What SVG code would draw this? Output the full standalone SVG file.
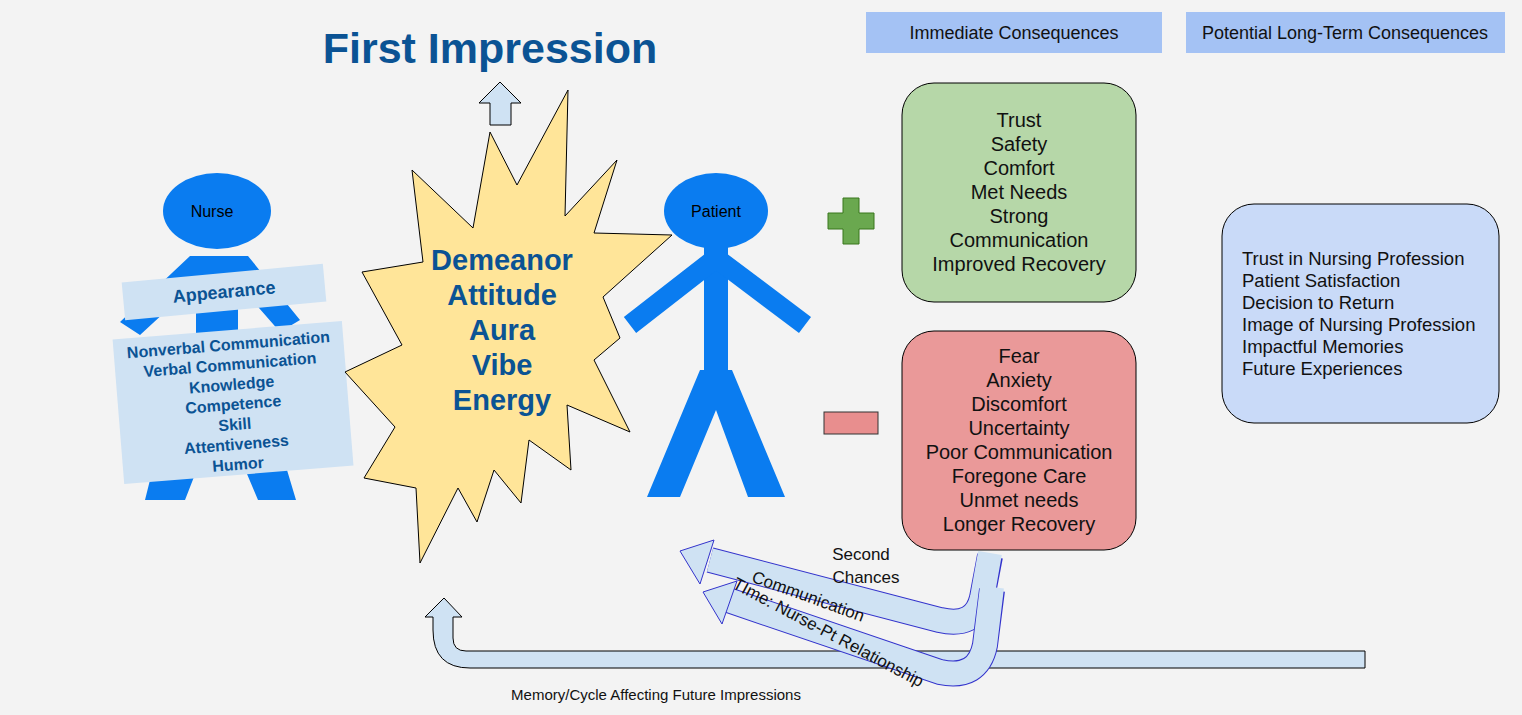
<svg xmlns="http://www.w3.org/2000/svg" width="1522" height="715" viewBox="0 0 1522 715">
<style>
text{font-family:"Liberation Sans",Arial,sans-serif}
.fig{fill:#0a7cf0}
.limb{stroke:#0a7cf0;fill:none}
.sign{fill:#cfe2f3}
.st{fill:#0b5394;font-weight:bold;text-anchor:middle}
.c{text-anchor:middle;font-size:20px;fill:#111}
.hdr{fill:#a4c2f4}
.ol{fill:none;stroke:#3333cc;stroke-width:26}
.in{fill:none;stroke:#cfe2f3;stroke-width:24}
.ah{fill:#cfe2f3;stroke:#3333cc;stroke-width:1}
</style>
<rect width="1522" height="715" fill="#f3f3f3"/>
<text x="490" y="63" class="st" font-size="43">First Impression</text>
<polygon points="500,82 521,103 511,103 511,125 490,125 490,103 479,103" fill="#cfe2f3" stroke="#000" stroke-width="1"/>
<g id="nurse">
<ellipse cx="217" cy="211" rx="54" ry="38" class="fig"/>
<polygon points="190,256 248,256 300,320 280,332 230,275 205,275 140,335 120,322" class="fig"/>
<rect x="196" y="270" width="42" height="120" class="fig"/>
<polygon points="175,380 260,380 296,500 258,500 220,410 185,500 145,500" class="fig"/>
<text x="212" y="217" font-size="16" text-anchor="middle" fill="#000">Nurse</text>
<g transform="rotate(-5.3 224 292)"><rect x="123" y="273" width="202" height="38" class="sign"/>
<text x="224" y="298" class="st" font-size="18">Appearance</text></g>
<g transform="rotate(-4.6 233 402)"><rect x="118" y="330" width="230" height="145" class="sign"/>
<g class="st" font-size="16"><text x="233" y="350">Nonverbal Communication</text><text x="233" y="370">Verbal Communication</text><text x="233" y="390">Knowledge</text><text x="233" y="410">Competence</text><text x="233" y="430">Skill</text><text x="233" y="450">Attentiveness</text><text x="233" y="470">Humor</text></g></g>
</g>
<g id="burst">
<polygon points="568,90 565,216 617,160 594,233 672,235 603,297 620,338 594,360 630,432 567,405 571,470 529,440 521,503 494,470 477,522 458,488 420,563 416,488 364,478 395,427 345,372 402,345 362,272 423,262 412,170 473,228 490,132 517,185" fill="#ffe599" stroke="#000" stroke-width="1"/>
<g class="st" font-size="29"><text x="502" y="270">Demeanor</text><text x="502" y="305">Attitude</text><text x="502" y="340">Aura</text><text x="502" y="375">Vibe</text><text x="502" y="410">Energy</text></g>
</g>
<g id="patient">
<ellipse cx="716" cy="211" rx="52" ry="38" class="fig"/>
<line x1="716" y1="245" x2="716" y2="385" class="limb" stroke-width="24"/>
<polyline points="630,325 716,258 805,325" class="limb" stroke-width="20" stroke-linejoin="bevel"/>
<polygon points="700,370 732,370 785,497 748,497 716,410 680,497 647,497" class="fig"/>
<text x="716" y="217" font-size="16" text-anchor="middle" fill="#000">Patient</text>
</g>
<g id="headers">
<rect x="866" y="12" width="296" height="41" class="hdr"/><text x="1014" y="39" font-size="18" text-anchor="middle" fill="#111">Immediate Consequences</text>
<rect x="1186" y="12" width="319" height="41" class="hdr"/><text x="1345" y="39" font-size="18" text-anchor="middle" fill="#111">Potential Long-Term Consequences</text>
</g>
<g id="positive">
<polygon points="843,198 859,198 859,213 874,213 874,229 859,229 859,244 843,244 843,229 828,229 828,213 843,213" fill="#6aa84f" stroke="#38761d" stroke-width="1"/>
<rect x="902" y="83" width="234" height="219" rx="32" fill="#b6d7a8" stroke="#000"/>
<text x="1019" y="127" class="c">Trust</text><text x="1019" y="151" class="c">Safety</text><text x="1019" y="175" class="c">Comfort</text><text x="1019" y="199" class="c">Met Needs</text><text x="1019" y="223" class="c">Strong</text><text x="1019" y="247" class="c">Communication</text><text x="1019" y="271" class="c">Improved Recovery</text>
</g>
<g id="negative">
<rect x="824" y="412" width="54" height="22" fill="#e88e8e" stroke="#333" stroke-width="1"/>
<rect x="902" y="331" width="234" height="219" rx="32" fill="#ea9999" stroke="#000"/>
<text x="1019" y="363" class="c">Fear</text><text x="1019" y="387" class="c">Anxiety</text><text x="1019" y="411" class="c">Discomfort</text><text x="1019" y="435" class="c">Uncertainty</text><text x="1019" y="459" class="c">Poor Communication</text><text x="1019" y="483" class="c">Foregone Care</text><text x="1019" y="507" class="c">Unmet needs</text><text x="1019" y="531" class="c">Longer Recovery</text>
</g>
<g id="longterm">
<rect x="1222" y="204" width="277" height="219" rx="32" fill="#c9daf8" stroke="#000"/>
<g font-size="18.5" fill="#111"><text x="1242" y="265">Trust in Nursing Profession</text><text x="1242" y="287">Patient Satisfaction</text><text x="1242" y="309">Decision to Return</text><text x="1242" y="331">Image of Nursing Profession</text><text x="1242" y="353">Impactful Memories</text><text x="1242" y="375">Future Experiences</text></g>
</g>
<g id="connectors">
<path d="M1365,651 L1365,668 L470,668 Q433,668 433,630 L433,617 L425,617 L444,598 L462,617 L453,617 L453,638 Q453,651 466,651 Z" fill="#cfe2f3" stroke="#000" stroke-width="1"/>
<path d="M990,556 L982,598 Q975,628 940,620 L710,560" class="ol"/>
<path d="M990,553 L982,598 Q975,628 940,620 L710,560" class="in"/>
<polygon points="680,551 714,540 700,584" class="ah"/>
<path d="M992,590 L985,645 Q978,680 940,672 L728,600" class="ol"/>
<path d="M992,587 L985,645 Q978,680 940,672 L728,600" class="in"/>
<polygon points="703,592 737,581 722,624" class="ah"/>
</g>
<g font-size="17" fill="#111">
<text x="861" y="560" text-anchor="middle">Second</text><text x="866" y="583" text-anchor="middle">Chances</text>
<text x="808" y="602" text-anchor="middle" transform="rotate(20 808 597)">Communication</text>
<text x="828" y="638" text-anchor="middle" transform="rotate(28 828 633)">TIme: Nurse-Pt Relationship</text>
<text x="656" y="700" text-anchor="middle" font-size="15">Memory/Cycle Affecting Future Impressions</text>
</g>
</svg>
